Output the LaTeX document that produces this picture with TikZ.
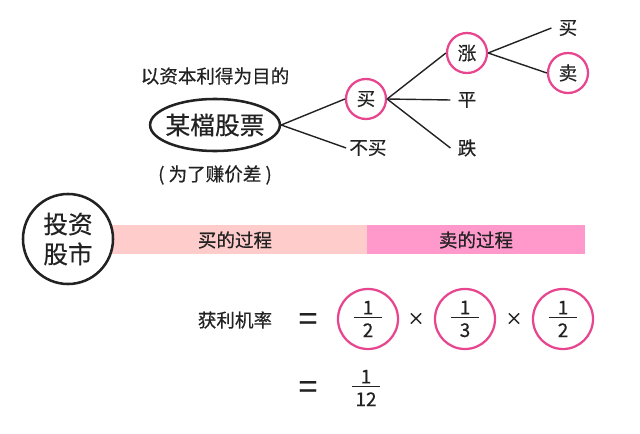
\documentclass[tikz,border=0pt]{standalone}
\usepackage{fontspec}
\setmainfont{Noto Sans CJK SC}[RawFeature={embolden=0.5}]
\usetikzlibrary{shapes.geometric}
\definecolor{rosa}{HTML}{E8458F}
\definecolor{barbuy}{HTML}{FFCCCC}
\definecolor{barsell}{HTML}{FF99CC}
\definecolor{tinta}{HTML}{222222}
\newcommand{\fuente}[1]{\fontsize{#1}{#1}\selectfont}
\newcommand{\razon}[3]{\vbox{\hbox to #1{\hfil#2\hfil}\kern2pt\hrule height 0.8pt\kern3.5pt\hbox to #1{\hfil#3\hfil}}}
\tikzset{
  texto/.style={text=tinta,inner sep=0pt,font=\fuente{13.2}},
  hoja/.style={texto,inner sep=0.175cm},
  circulo/.style={circle,draw=rosa,line width=1.6pt,minimum size=1cm,inner sep=0pt,text=tinta,font=\fuente{13.2}},
  grande/.style={circle,draw=rosa,line width=1.6pt,minimum size=1.5cm,inner sep=0pt,text=tinta,font=\fuente{13.5}},
  barra/.style={minimum height=0.725cm,inner sep=0pt,text=tinta,font=\fuente{13.2}},
  rama/.style={draw=tinta,line width=1pt},
  igual/.style={text=tinta,inner sep=0pt,font=\fuente{24}},
  por/.style={text=tinta,inner sep=0pt,font=\fuente{12}}
}
\begin{document}
\begin{tikzpicture}[x=0.025cm,y=-0.025cm]
    \useasboundingbox (0,0) rectangle (640,434);

    % Barras
    \node[barra,fill=barbuy,minimum width=6.375cm] (compra) at (239.5,239.5) {};
    \node[barra,fill=barsell,minimum width=5.45cm] (venta) at (476,239.5) {};
    \node[texto] (tcompra) at (235,240) {买的过程};
    \node[texto] (tventa) at (476,240) {卖的过程};

    % Circulo principal
    \node[circle,draw=tinta,fill=white,line width=1.8pt,minimum size=2.25cm,inner sep=0pt,text=tinta,
      align=center,font=\fontsize{17.5}{21.3}\selectfont] (bolsa) at (68,239) {投资\\股市};

    % Arbol
    \node[ellipse,draw=tinta,line width=1.8pt,minimum height=1.3cm,inner ysep=0pt,inner xsep=-0.09cm,
      text=tinta,font=\fuente{17.6}] (accion) at (215,125) {某檔股票};
    \node[texto] (meta) at (215,76) {以资本利得为目的};
    \node[texto] (nota) at (215,175) {( 为了赚价差 )};
    \node[circulo] (comprar) at (366,99) {买};
    \node[texto,inner sep=0.075cm] (nocomprar) at (368,148) {不买};
    \node[circulo] (sube) at (467,53) {涨};
    \node[hoja] (igual) at (467,100) {平};
    \node[hoja] (baja) at (467,148) {跌};
    \node[hoja] (recompra) at (568,28) {买};
    \node[circulo] (vender) at (568,73) {卖};

    % Ramas
    \draw[rama] (accion.east) -- (comprar.west);
    \draw[rama] (accion.east) -- (nocomprar.west);
    \draw[rama] (comprar.east) -- (sube.west);
    \draw[rama] (comprar.east) -- (igual.west);
    \draw[rama] (comprar.east) -- (baja.west);
    \draw[rama] (sube.east) -- (recompra.west);
    \draw[rama] (sube.east) -- (vender.west);

    % Probabilidad
    \node[texto] (prob) at (235,320) {获利机率};
    \node[igual] (eqa) at (308,322) {=};
    \node[grande] (fa) at (368,319) {\razon{0.7cm}{1}{2}};
    \node[por] (xa) at (416,319) {×};
    \node[grande] (fb) at (465,319) {\razon{0.7cm}{1}{3}};
    \node[por] (xb) at (514,319) {×};
    \node[grande] (fc) at (563,319) {\razon{0.7cm}{1}{2}};
    \node[igual] (eqb) at (308,390) {=};
    \node[text=tinta,inner sep=0pt,font=\fuente{13.5}] (total) at (366,388) {\razon{0.72cm}{1}{12}};
\end{tikzpicture}
\end{document}
